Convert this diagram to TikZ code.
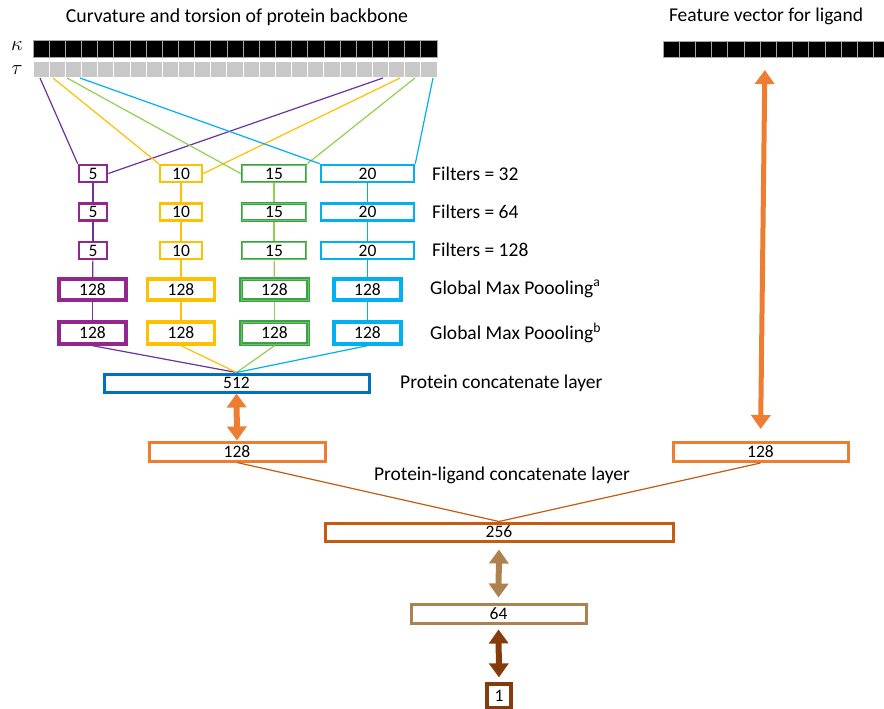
\documentclass[tikz,border=0pt]{standalone}
\usepackage{fontspec}
\setmainfont{Carlito}
\usetikzlibrary{arrows.meta}
\definecolor{cpurple}{HTML}{93278F}
\definecolor{cpurpleL}{HTML}{7030A0}
\definecolor{cyellow}{HTML}{FFC000}
\definecolor{cgreen}{HTML}{3AA346}
\definecolor{cgreenM}{HTML}{6CC264}
\definecolor{cgreenL}{HTML}{92D050}
\definecolor{cblue}{HTML}{00B0F0}
\definecolor{cdblue}{HTML}{0070C0}
\definecolor{corange}{HTML}{ED7D31}
\definecolor{cdorange}{HTML}{C55A11}
\definecolor{ctan}{HTML}{AD8250}
\definecolor{cbrown}{HTML}{843C0C}
\definecolor{ctau}{HTML}{C8C8C8}
\begin{document}
\begin{tikzpicture}[x=1pt,y=-1pt,
  box/.style={draw, fill=white, inner sep=0pt, font=\fontsize{17.5}{17.5}\selectfont, line width=2.6pt},
  pbox/.style={box, draw=cpurple},
  ybox/.style={box, draw=cyellow},
  gbox/.style={box, draw=cgreen, postaction={draw=cgreenM, line width=0.7pt}},
  bbox/.style={box, draw=cblue},
  fsmall/.style={minimum height=17pt},
  fbig/.style={minimum height=21pt, minimum width=67pt, line width=3.4pt},
  lbl/.style={font=\fontsize{19.5}{19.5}\selectfont, inner sep=0pt},
  greek/.style={font=\fontsize{20}{20}\selectfont, inner sep=0pt},
  conn/.style={line width=1.2pt},
  kcell/.style={fill=black, draw=gray!70, line width=0.7pt},
  tcell/.style={fill=ctau, draw=white, line width=0.9pt},
  dbl/.style={line width=6pt, {Triangle[width=19pt,length=14pt]}-{Triangle[width=19pt,length=14pt]}},
]
\useasboundingbox (0,0) rectangle (884,709);

% titles
\node[lbl,font=\fontsize{19.8}{19.8}\selectfont] (title1) at (237,17) {Curvature and torsion of protein backbone};
\node[lbl] (title2) at (766,16) {Feature vector for ligand};
\node[greek] (kap) at (17,46) {$\kappa$};
\node[greek] (tau) at (17,70) {$\tau$};

% kappa and tau rows
\foreach \i in {0,...,24} {
  \path[kcell] (33+\i*16.16,40) rectangle (33+\i*16.16+16.16,57);
  \path[tcell] (33+\i*16.16,61) rectangle (33+\i*16.16+16.16,77);
}
% ligand vector
\begin{scope}
\clip (0,0) rectangle (884,709);
\foreach \i in {0,...,13} {
  \path[kcell] (663+\i*16.2,41) rectangle (663+\i*16.2+16.2,57);
}
\end{scope}
\coordinate (lig) at (765,57);

% tau start points
\coordinate (s1) at (40,78);
\coordinate (s2) at (53,78);
\coordinate (s3) at (67,78);
\coordinate (s4) at (80,78);
\coordinate (e1) at (383,78);
\coordinate (e2) at (400,78);
\coordinate (e3) at (415,78);
\coordinate (e4) at (433,78);

% filter rows
\foreach \r/\y in {a/173.5,b/212,c/250.5} {
  \node[pbox,fsmall,minimum width=28pt] (p\r) at (93,\y) {5};
  \node[ybox,fsmall,minimum width=42pt] (y\r) at (181,\y) {10};
  \node[gbox,fsmall,minimum width=64pt] (g\r) at (274,\y) {15};
  \node[bbox,fsmall,minimum width=93pt] (b\r) at (367.5,\y) {20};
}
\foreach \r/\y/\h in {d/289.5/21,e/333/22} {
  \node[pbox,fbig,minimum height=\h pt] (p\r) at (92.5,\y) {128};
  \node[ybox,fbig,minimum height=\h pt] (y\r) at (181,\y) {128};
  \node[gbox,fbig,minimum height=\h pt] (g\r) at (274.5,\y) {128};
  \node[bbox,fbig,minimum height=\h pt] (b\r) at (367.5,\y) {128};
}

% right labels
\node[lbl,anchor=west] (l1) at (432,174) {Filters = 32};
\node[lbl,anchor=west] (l2) at (432,212) {Filters = 64};
\node[lbl,anchor=west] (l3) at (432,250) {Filters = 128};
\node[lbl,anchor=west] (l4) at (430,289) {Global Max Poooling\textsuperscript{a}};
\node[lbl,anchor=west] (l5) at (430,333) {Global Max Poooling\textsuperscript{b}};

% lower layers
\node[box,draw=cdblue,line width=3pt,minimum width=265pt,minimum height=18pt] (p512) at (236.5,383) {512};
\node[lbl,anchor=west] (lp) at (400,383) {Protein concatenate layer};
\node[box,draw=corange,line width=3pt,minimum width=176pt,minimum height=19pt] (l128) at (237,451.5) {128};
\node[box,draw=corange,line width=3pt,minimum width=175pt,minimum height=19pt] (r128) at (760.5,452) {128};
\node[lbl] (lpl) at (502,475) {Protein-ligand concatenate layer};
\node[box,draw=cdorange,line width=3pt,minimum width=348pt,minimum height=18pt] (n256) at (499,532) {256};
\node[box,draw=ctan,line width=3pt,minimum width=175pt,minimum height=19pt] (n64) at (498.5,613.5) {64};
\node[box,draw=cbrown,line width=3.2pt,minimum width=24pt,minimum height=24pt] (n1) at (499,696) {1};

% connectors from tau row
\draw[conn,cpurpleL] (s1) -- (pa.north west);
\draw[conn,cpurpleL] (e1) -- (pa.east);
\draw[conn,cyellow] (s2) -- (ya.north west);
\draw[conn,cyellow] (e2) -- (ya.east);
\draw[conn,cgreenL] (s3) -- (ga.west);
\draw[conn,cgreenL] (e3) -- (ga.north east);
\draw[conn,cblue] (s4) -- (ba.north west);
\draw[conn,cblue] (e4) -- (ba.north east);

% vertical links
\foreach \c/\col in {p/cpurpleL,y/cyellow,g/cgreenL,b/cblue} {
  \draw[conn,\col] (\c a) -- (\c b);
  \draw[conn,\col] (\c b) -- (\c c);
  \draw[conn,\col] (\c c) -- (\c d);
  \draw[conn,\col] (\c d) -- (\c e);
  \draw[conn,\col] (\c e.south) -- (p512.north);
}

\draw[conn,cdorange] (l128.south) -- (n256.north);
\draw[conn,cdorange] (r128.south) -- (n256.north);

% arrows
\draw[dbl,corange] (p512.south) -- (l128.north);
\draw[dbl,corange,line width=5pt,shorten <=13pt,shorten >=12pt] (lig) -- (r128.north);
\draw[dbl,ctan,shorten <=7pt,shorten >=5pt] (n256.south) -- (n64.north);
\draw[dbl,cbrown,shorten <=5pt,shorten >=5pt] (n64.south) -- (n1.north);
\end{tikzpicture}
\end{document}
